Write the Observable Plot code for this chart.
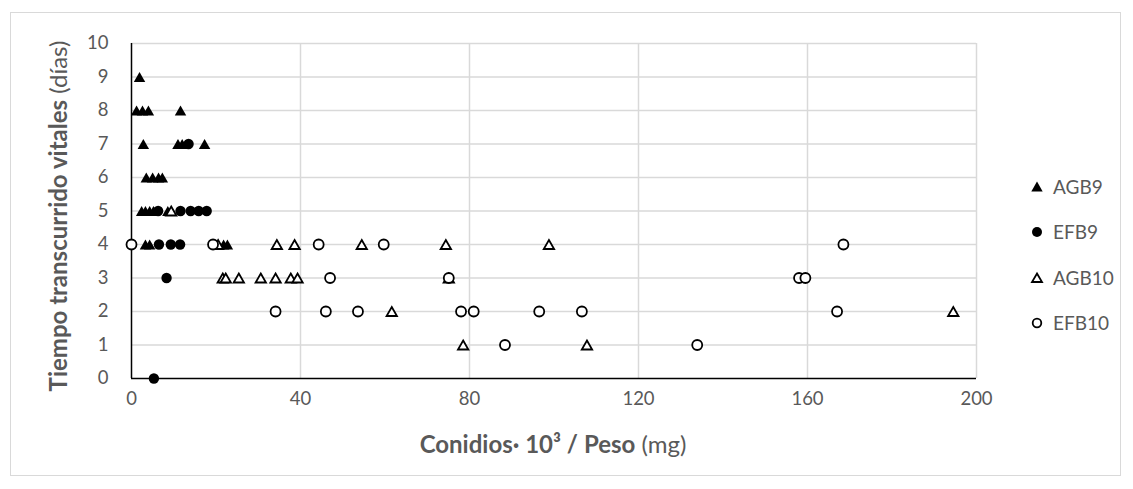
<!DOCTYPE html>
<html>
<head>
<meta charset="utf-8">
<script src="https://cdn.jsdelivr.net/npm/d3@7"></script>
<script src="https://cdn.jsdelivr.net/npm/@observablehq/plot@0.6"></script>
<style>
  html, body { margin: 0; padding: 0; background: #fff; }
  #wrap { position: relative; width: 1133px; height: 489px; overflow: hidden; font-family: Lato, "Open Sans", sans-serif; color: #595959; }
  #frame { position: absolute; left: 10px; top: 12px; width: 1111px; height: 464px; border: 1px solid #d9d9d9; box-sizing: border-box; pointer-events: none; }
  #chart { position: absolute; left: 0; top: 0; }
  #legend { position: absolute; left: 1030px; top: 177px; font-size: 19px; line-height: 1; }
  #legend .row { position: absolute; left: 0; display: flex; align-items: center; white-space: nowrap; }
  #legend svg { margin-right: 9px; }
</style>
</head>
<body>
<div id="wrap">
  <div id="chart"></div>
  <div id="frame"></div>
  <div id="legend"></div>
</div>
<script>
// ---- Data ----
const seriesNames = ["AGB9", "EFB9", "AGB10", "EFB10"];

const agb9X = [1.9, 1.2, 2.6, 4.0, 11.6, 2.8, 11.0, 12.0, 17.3, 3.5, 5.0, 6.4, 7.3, 2.4, 3.3, 4.3, 5.2, 8.6, 3.3, 4.3, 21.8, 22.7];
const agb9Y = [9, 8, 8, 8, 8, 7, 7, 7, 7, 6, 6, 6, 6, 5, 5, 5, 5, 5, 4, 4, 4, 4];

const efb9X = [13.5, 6.3, 11.6, 14.0, 15.9, 17.8, 6.5, 9.3, 11.5, 8.3, 5.3];
const efb9Y = [7, 5, 5, 5, 5, 5, 4, 4, 4, 3, 0];

const agb10X = [9.4, 20.5, 34.4, 38.6, 54.5, 74.4, 98.8, 21.6, 22.3, 25.4, 30.6, 34.1, 37.7, 39.3, 75.1, 61.6, 194.5, 78.5, 107.8];
const agb10Y = [5, 4, 4, 4, 4, 4, 4, 3, 3, 3, 3, 3, 3, 3, 3, 2, 2, 1, 1];

const efb10X = [0, 19.3, 44.3, 59.7, 168.5, 47.0, 75.1, 158.0, 159.5, 34.1, 46.0, 53.6, 78.0, 81.0, 96.5, 106.6, 167.0, 88.4, 133.9];
const efb10Y = [4, 4, 4, 4, 4, 3, 3, 3, 3, 2, 2, 2, 2, 2, 2, 2, 2, 1, 1];

const xTicks = [0, 40, 80, 120, 160, 200];
const yTicks = [0, 1, 2, 3, 4, 5, 6, 7, 8, 9, 10];

const xTitleBold = "Conidios· 10³ / Peso";
const xTitleNormal = " (mg)";
const yTitleBold = "Tiempo transcurrido vitales";
const yTitleNormal = " (días)";

// ---- Build tables ----
const toRows = (xs, ys) => xs.map((x, i) => ({x, y: ys[i]}));
const agb9 = toRows(agb9X, agb9Y);
const efb9 = toRows(efb9X, efb9Y);
const agb10 = toRows(agb10X, agb10Y);
const efb10 = toRows(efb10X, efb10Y);

// centered triangle symbol (Excel style)
const tri = {
  draw(context, size) {
    const r = Math.sqrt(size / Math.PI);
    const hw = 1.33 * r, hh = 1.15 * r;
    context.moveTo(0, -hh);
    context.lineTo(hw, hh);
    context.lineTo(-hw, hh);
    context.closePath();
  }
};

const W = 1133, H = 489;
const plot = Plot.plot({
  width: W,
  height: H,
  marginLeft: 131,
  marginRight: 157,
  marginTop: 43,
  marginBottom: 111,
  style: { fontFamily: "Lato, 'Open Sans', sans-serif", fontSize: "18.5px", color: "#595959", background: "transparent", overflow: "visible" },
  x: { domain: [0, 200], label: null },
  y: { domain: [0, 10], label: null },
  marks: [
    Plot.ruleY(yTicks.filter(d => d > 0), { stroke: "#d9d9d9", strokeWidth: 1.5 }),
    Plot.ruleX(xTicks.filter(d => d > 0), { stroke: "#d9d9d9", strokeWidth: 1.5 }),
    Plot.ruleX([0], { stroke: "#000", strokeWidth: 1.5 }),
    Plot.ruleY([0], { stroke: "#000", strokeWidth: 1.5 }),
    Plot.axisX({ ticks: xTicks, tickSize: 0, tickPadding: 13, label: null, fill: "#595959" }),
    Plot.axisY({ ticks: yTicks, tickSize: 0, tickPadding: 23, label: null, fill: "#595959" }),
    Plot.dot(agb9, { x: "x", y: "y", symbol: tri, r: 4.3, fill: "#000", stroke: "none" }),
    Plot.dot(efb9, { x: "x", y: "y", symbol: "circle", r: 5.2, fill: "#000", stroke: "none" }),
    Plot.dot(agb10, { x: "x", y: "y", symbol: tri, r: 3.9, fill: "#fff", stroke: "#000", strokeWidth: 1.8 }),
    Plot.dot(efb10, { x: "x", y: "y", symbol: "circle", r: 5, fill: "#fff", stroke: "#000", strokeWidth: 1.8 })
  ]
});
document.getElementById("chart").appendChild(plot);

// axis titles with mixed weights
const svg = d3.select(plot);
const xt = svg.append("text")
  .attr("x", 553).attr("y", 453)
  .attr("text-anchor", "middle")
  .attr("fill", "#595959")
  .style("font-size", "24px");
xt.append("tspan").attr("font-weight", "bold").text(xTitleBold);
xt.append("tspan").text(xTitleNormal);

const yt = svg.append("text")
  .attr("transform", "translate(67,216) rotate(-90)")
  .attr("text-anchor", "middle")
  .attr("fill", "#595959")
  .style("font-size", "24px");
yt.append("tspan").attr("font-weight", "bold").text(yTitleBold);
yt.append("tspan").text(yTitleNormal);

// legend
const legendRows = [
  { name: seriesNames[0], shape: "tri", filled: true, top: 0 },
  { name: seriesNames[1], shape: "circle", filled: true, top: 45 },
  { name: seriesNames[2], shape: "tri", filled: false, top: 91 },
  { name: seriesNames[3], shape: "circle", filled: false, top: 136 }
];
const leg = d3.select("#legend");
legendRows.forEach(d => {
  const row = leg.append("div").attr("class", "row").style("top", d.top + "px");
  const s = row.append("svg").attr("width", 14).attr("height", 14);
  if (d.shape === "tri") {
    s.append("path").attr("d", d.filled ? "M7,1.5L12.7,11.5L1.3,11.5Z" : "M7,2.5L12,11L2,11Z")
      .attr("fill", d.filled ? "#000" : "#fff").attr("stroke", d.filled ? "none" : "#000").attr("stroke-width", 1.8);
  } else {
    s.append("circle").attr("cx", 7).attr("cy", 7).attr("r", d.filled ? 5 : 4.3)
      .attr("fill", d.filled ? "#000" : "#fff").attr("stroke", d.filled ? "none" : "#000").attr("stroke-width", 1.8);
  }
  row.append("span").text(d.name);
});
</script>
</body>
</html>
